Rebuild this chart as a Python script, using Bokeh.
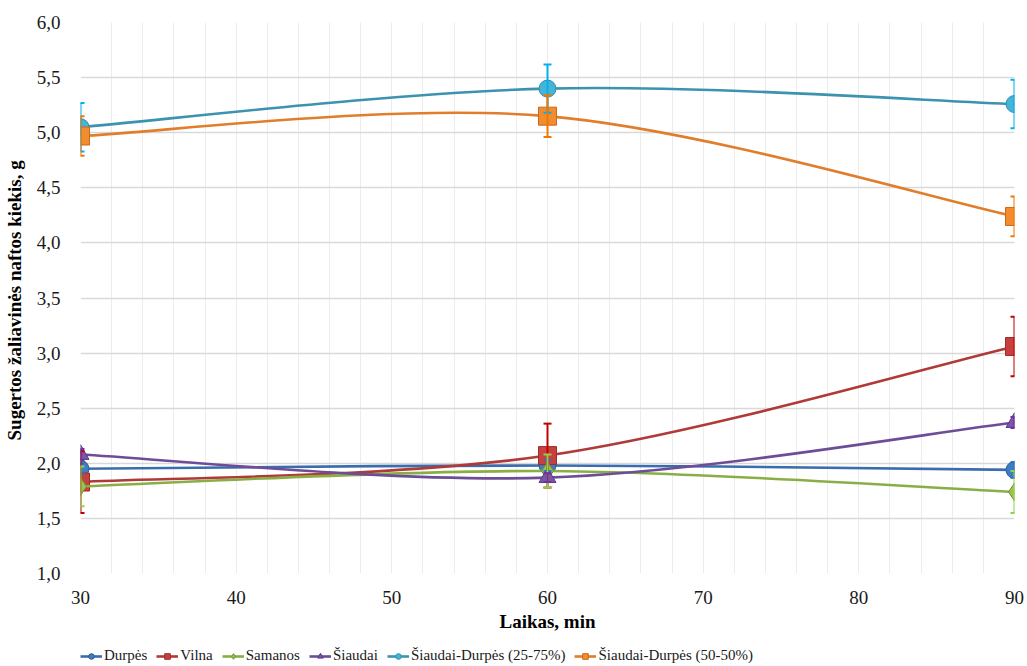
from bokeh.plotting import figure
from bokeh.layouts import column
from bokeh.models import (Range1d, Whisker, TeeHead, ColumnDataSource, Legend, LegendItem,
                          CustomJSTickFormatter, FixedTicker)
from bokeh.embed import file_html
from bokeh.resources import INLINE

# ---- data ----
times = [30, 60, 90]
durpes = [1.95, 1.98, 1.94]
vilna = [1.83, 2.07, 3.06]
samanos = [1.79, 1.93, 1.74]
siaudai = [2.08, 1.87, 2.37]
sd_25_75 = [5.05, 5.40, 5.26]
sd_50_50 = [4.97, 5.15, 4.24]

durpes_err = [0.05, 0.05, 0.07]
vilna_err = [0.28, 0.29, 0.27]
samanos_err = [0.18, 0.15, 0.19]
siaudai_err = [0.05, 0.04, 0.05]
sd_25_75_err = [0.22, 0.22, 0.22]
sd_50_50_err = [0.18, 0.19, 0.18]

series_names = ["Durpės", "Vilna", "Samanos", "Šiaudai",
                "Šiaudai-Durpės (25-75%)", "Šiaudai-Durpės (50-50%)"]

FONT = "Liberation Serif"
NAN = float("nan")

p = figure(width=1027, height=636, output_backend="svg", toolbar_location=None,
           x_range=Range1d(30, 90), y_range=Range1d(1.0, 6.0),
           min_border_left=76, min_border_right=13, min_border_top=22, min_border_bottom=63)
p.outline_line_color = None
p.background_fill_color = "white"

# axes
for ax in (p.xaxis[0], p.yaxis[0]):
    ax.axis_line_color = None
    ax.major_tick_line_color = None
    ax.minor_tick_line_color = None
    ax.major_label_text_font = FONT
    ax.major_label_text_font_size = "19px"
    ax.major_label_text_color = "#1a1a1a"
    ax.axis_label_text_font = FONT
    ax.axis_label_text_font_style = "bold"
    ax.axis_label_text_font_size = "19px"
    ax.axis_label_text_color = "#000000"

p.xaxis.ticker = FixedTicker(ticks=[30, 40, 50, 60, 70, 80, 90])
p.yaxis.ticker = FixedTicker(ticks=[1.0, 1.5, 2.0, 2.5, 3.0, 3.5, 4.0, 4.5, 5.0, 5.5, 6.0])
p.yaxis.formatter = CustomJSTickFormatter(code="return tick.toFixed(1).replace('.', ',');")
p.xaxis.major_label_standoff = 11
p.yaxis.major_label_standoff = 14
p.xaxis.axis_label = "Laikas, min"
p.yaxis.axis_label = "Sugertos žaliavinės  naftos kiekis, g"
p.xaxis.axis_label_standoff = 4
p.yaxis.axis_label_standoff = 9

# grid
p.xgrid.ticker = FixedTicker(ticks=list(range(30, 91, 2)))
p.xgrid.grid_line_color = "#ececec"
p.xgrid.grid_line_width = 1
p.ygrid.grid_line_color = "#d9d9d9"
p.ygrid.grid_line_width = 1.5

line_colors = ["#3A6DAE", "#B03A37", "#8AAE46", "#6E4D98", "#3B93B0", "#E07E2C"]
fill_colors = ["#3C7DC4", "#C8403D", "#9BC44F", "#7A55A8", "#45B4D6", "#F28C2E"]
edge_colors = ["#2C5C95", "#9A2E2C", "#6E8D35", "#5A3C80", "#2E8FB0", "#C8691C"]
err_colors = ["#2E75B6", "#C00000", "#92D050", "#7030A0", "#00B0F0", "#F07800"]
markers = ["circle", "square", "diamond", "triangle", "circle", "square"]
sizes = [17, 18, 18, 17, 17, 18]

all_vals = [durpes, vilna, samanos, siaudai, sd_25_75, sd_50_50]
all_errs = [durpes_err, vilna_err, samanos_err, siaudai_err, sd_25_75_err, sd_50_50_err]


def bezier_segments(xs, ys):
    n = len(xs)
    out = dict(x0=[], y0=[], x1=[], y1=[], cx0=[], cy0=[], cx1=[], cy1=[])
    for i in range(n - 1):
        im1 = max(i - 1, 0)
        ip2 = min(i + 2, n - 1)
        out["x0"].append(xs[i]); out["y0"].append(ys[i])
        out["x1"].append(xs[i + 1]); out["y1"].append(ys[i + 1])
        out["cx0"].append(xs[i] + (xs[i + 1] - xs[im1]) / 6.0)
        out["cy0"].append(ys[i] + (ys[i + 1] - ys[im1]) / 6.0)
        out["cx1"].append(xs[i + 1] - (xs[ip2] - xs[i]) / 6.0)
        out["cy1"].append(ys[i + 1] - (ys[ip2] - ys[i]) / 6.0)
    return out


# legend figure (no axes)
lf = figure(width=1027, height=30, output_backend="svg", toolbar_location=None,
            x_range=Range1d(0, 1), y_range=Range1d(0, 1),
            x_axis_location=None, y_axis_location=None,
            min_border_left=0, min_border_right=0, min_border_top=0, min_border_bottom=0)
lf.grid.visible = False
lf.outline_line_color = None

legend_items = []
for k in range(6):
    vals = all_vals[k]
    errs = all_errs[k]
    p.bezier(source=ColumnDataSource(bezier_segments(times, vals)),
             x0="x0", y0="y0", x1="x1", y1="y1", cx0="cx0", cy0="cy0", cx1="cx1", cy1="cy1",
             line_color=line_colors[k], line_width=2.6)
    src = ColumnDataSource(dict(x=times, y=vals,
                                lo=[v - e for v, e in zip(vals, errs)],
                                hi=[v + e for v, e in zip(vals, errs)]))
    w = Whisker(base="x", lower="lo", upper="hi", source=src, level="glyph",
                line_color=err_colors[k], line_width=2,
                upper_head=TeeHead(size=8, line_color=err_colors[k], line_width=2),
                lower_head=TeeHead(size=8, line_color=err_colors[k], line_width=2))
    p.add_layout(w)
    p.scatter(x="x", y="y", source=src, marker=markers[k], size=sizes[k],
              fill_color=fill_colors[k], line_color=edge_colors[k], line_width=1)
    leg_line = lf.line(x=[NAN, NAN], y=[NAN, NAN], line_color=line_colors[k], line_width=2.6)
    leg_mark = lf.scatter(x=[NAN], y=[NAN], marker=markers[k], size=11,
                          fill_color=fill_colors[k], line_color=edge_colors[k], line_width=1)
    legend_items.append(LegendItem(label=series_names[k], renderers=[leg_line, leg_mark]))

legend = Legend(items=legend_items, orientation="horizontal", location=(0, 2),
                label_text_font=FONT, label_text_font_size="15px", label_text_color="#1a1a1a",
                glyph_width=22, glyph_height=14, spacing=9, label_standoff=2,
                padding=2, margin=0, border_line_color=None, background_fill_alpha=0)
lf.add_layout(legend, "center")

layout = column(p, lf, spacing=0)
open("out.html", "w").write(file_html(layout, INLINE))
